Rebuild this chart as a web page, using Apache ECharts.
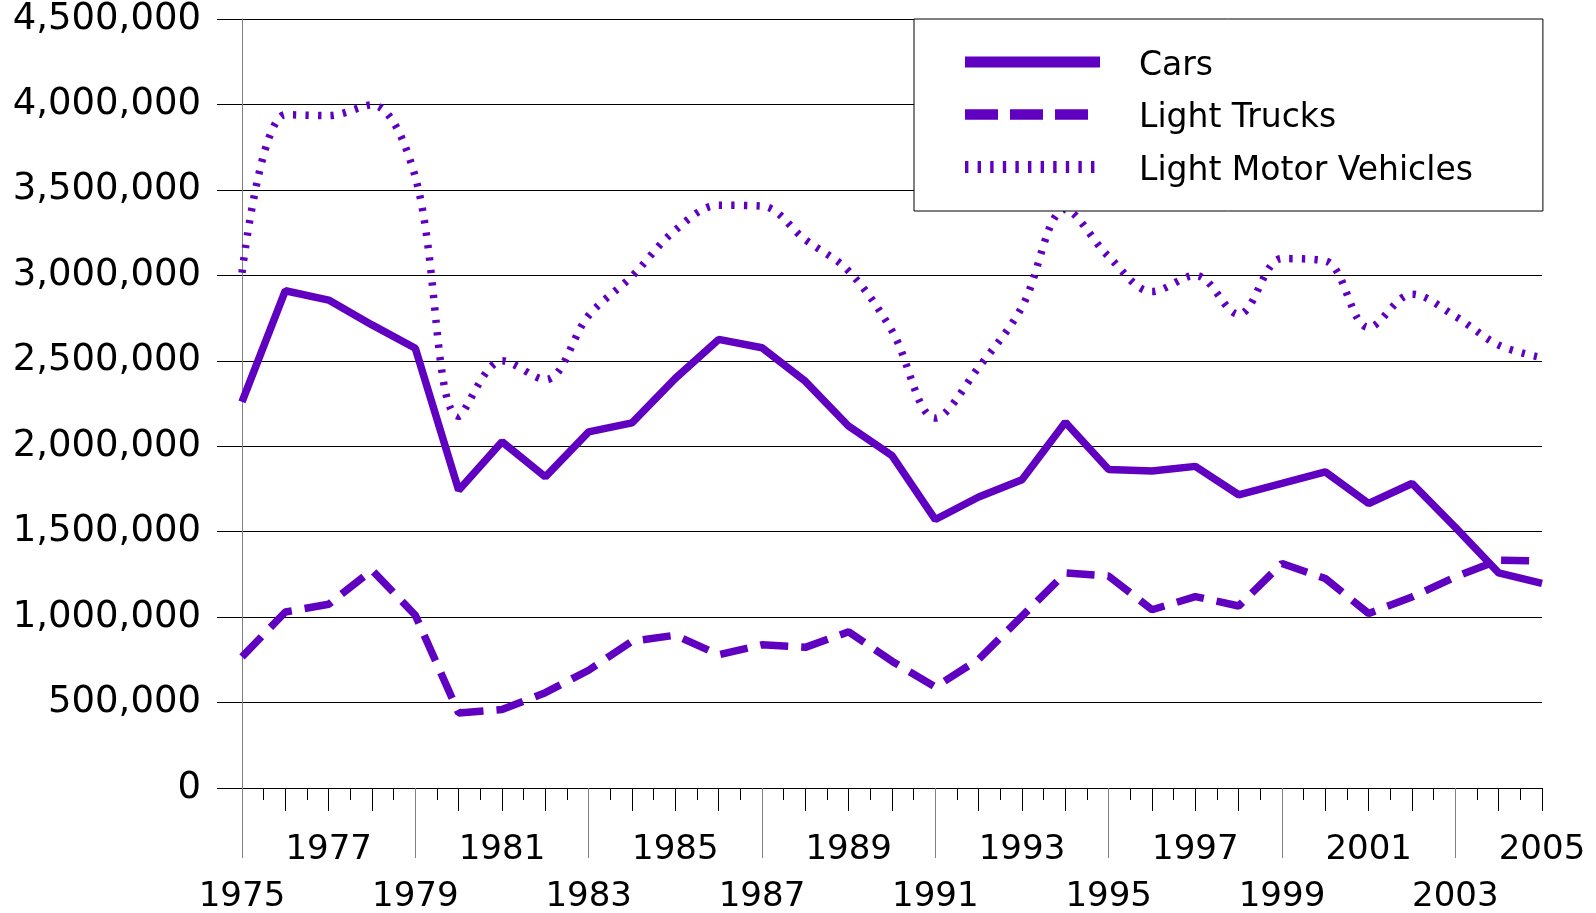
<!DOCTYPE html>
<html>
<head>
<meta charset="utf-8">
<title>Light Motor Vehicles</title>
<script src="https://cdn.jsdelivr.net/npm/echarts@6/dist/echarts.min.js"></script>
<style>
  html, body { margin: 0; padding: 0; background: #fff; }
  #chart { width: 1596px; height: 913px; }
</style>
</head>
<body>
<div id="chart"></div>
<script>
  // years on the category axis
  const years = ['1975', '1976', '1977', '1978', '1979', '1980', '1981', '1982', '1983', '1984',
    '1985', '1986', '1987', '1988', '1989', '1990', '1991', '1992', '1993', '1994',
    '1995', '1996', '1997', '1998', '1999', '2000', '2001', '2002', '2003', '2004', '2005'];

  // values
  const cars = [2260000, 2910000, 2855000, 2710000, 2573000, 1743000, 2026000, 1821000, 2084000, 2137000,
    2397000, 2625000, 2576000, 2380000, 2117000, 1945000, 1571000, 1703000, 1804000, 2140000,
    1864000, 1855000, 1882000, 1716000, 1782000, 1850000, 1665000, 1782000, 1525000, 1259000, 1197000];

  const lightTrucks = [767000, 1030000, 1075000, 1275000, 1011000, 439000, 459000, 558000, 689000, 859000,
    894000, 780000, 838000, 823000, 914000, 742000, 591000, 753000, 1005000, 1258000,
    1240000, 1043000, 1120000, 1065000, 1314000, 1226000, 1021000, 1118000, 1235000, 1333000, 1329000];

  const lightMotorVehicles = [3015000, 3940000, 3935000, 3997000, 3575000, 2175000, 2500000, 2390000, 2765000, 2995000,
    3265000, 3410000, 3405000, 3208000, 3025000, 2675000, 2165000, 2462000, 2815000, 3385000,
    3110000, 2905000, 3000000, 2772000, 3098000, 3085000, 2695000, 2890000, 2760000, 2592000, 2518000];

  const seriesNames = ['Cars', 'Light Trucks', 'Light Motor Vehicles'];

  const purple = '#6000c0';
  const font = 'DejaVu Sans';

  const chart = echarts.init(document.getElementById('chart'));

  const fmt = (v) => String(v).replace(/\B(?=(\d{3})+(?!\d))/g, ',');

  const option = {
    animation: false,
    textStyle: { fontFamily: font, color: '#000' },
    grid: {
      left: 242, right: 54, top: 19, bottom: 125,
      outerBoundsMode: 'none'
    },
    legend: {
      orient: 'vertical',
      left: 914, top: 19,
      padding: [19, 70, 20, 45],
      itemWidth: 135, itemHeight: 40, itemGap: 4.5,
      backgroundColor: '#fff',
      borderColor: '#000', borderWidth: 1,
      selectedMode: false,
      itemStyle: { opacity: 0 },
      formatter: (name) => '{t|' + name + '}',
      textStyle: {
        fontFamily: font, fontSize: 33, color: '#000', lineHeight: 40, padding: [8, 0, 0, 34],
        rich: { t: { fontFamily: font, fontSize: 33, color: '#000', lineHeight: 40 } }
      },
      data: [
        { name: seriesNames[0], lineStyle: { width: 11, type: 'solid' } },
        { name: seriesNames[1], lineStyle: { width: 10.5, type: [33, 12] } },
        { name: seriesNames[2], lineStyle: { width: 12, type: [3.4, 9.2] } }
      ]
    },
    xAxis: [
      {
        // year ticks + labels
        type: 'category', data: years, position: 'bottom', boundaryGap: false,
        axisLine: { show: true, lineStyle: { color: '#000', width: 1 } },
        axisTick: { show: true, interval: 0, length: 23, lineStyle: { color: '#000' } },
        axisLabel: {
          interval: 1, margin: 39, lineHeight: 46.5,
          fontFamily: font, fontSize: 34, color: '#000',
          formatter: (v, i) => (i % 4 === 0 ? '\n' + v : v)
        },
        splitLine: { show: false }
      },
      {
        // half-year minor ticks
        type: 'value', position: 'bottom', min: 1975, max: 2005, interval: 0.5,
        axisLine: { show: false },
        axisTick: { show: true, length: 12, lineStyle: { color: '#000' } },
        axisLabel: { show: false },
        splitLine: { show: false }
      },
      {
        // long ticks every 4 years
        type: 'category', data: years, position: 'bottom', boundaryGap: false,
        axisLine: { show: false },
        axisTick: { show: true, length: 70, interval: (i) => i % 4 === 0 && i < 30, lineStyle: { color: '#808080' } },
        axisLabel: { show: false },
        splitLine: { show: false }
      }
    ],
    yAxis: {
      type: 'value', min: 0, max: 4500000, interval: 500000,
      axisLine: { show: true, lineStyle: { color: '#808080' } },
      axisTick: { show: true, length: 25, lineStyle: { color: '#000' } },
      axisLabel: { margin: 41, padding: [8, 0, 0, 0], fontFamily: font, fontSize: 37, color: '#000', formatter: fmt },
      splitLine: { show: true, lineStyle: { color: '#000', width: 1 } }
    },
    series: [
      {
        name: seriesNames[0], type: 'line', data: cars, symbol: 'none',
        lineStyle: { color: purple, width: 7.5 }, itemStyle: { color: purple }
      },
      {
        name: seriesNames[1], type: 'line', data: lightTrucks, symbol: 'none',
        lineStyle: { color: purple, width: 7.5, type: [28, 13] }, itemStyle: { color: purple }
      },
      {
        name: seriesNames[2], type: 'line', data: lightMotorVehicles, symbol: 'none', smooth: 0.35,
        lineStyle: { color: purple, width: 7.5, type: [3.3, 9.2] }, itemStyle: { color: purple }
      }
    ]
  };

  chart.setOption(option);
</script>
</body>
</html>
